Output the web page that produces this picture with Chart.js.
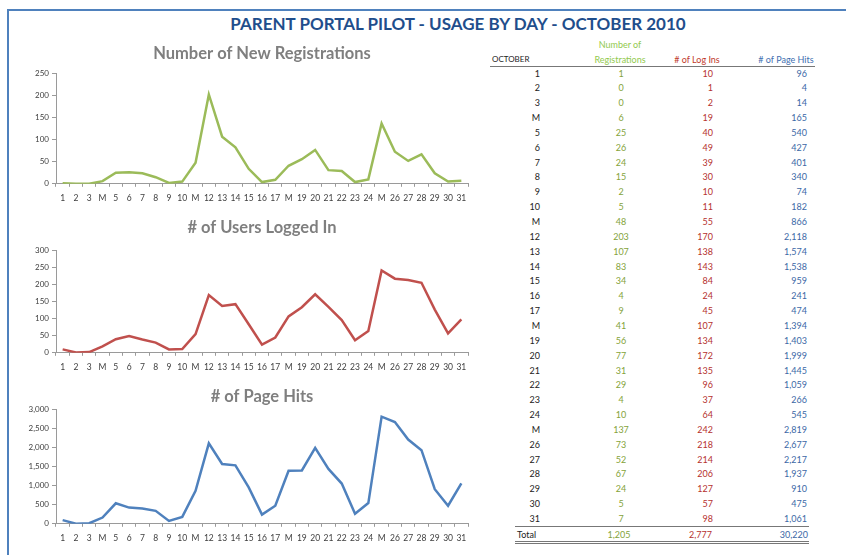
<!DOCTYPE html>
<html>
<head>
<meta charset="utf-8">
<script src="https://cdn.jsdelivr.net/npm/chart.js@4"></script>
<style>
  html, body { margin: 0; padding: 0; background: #fff; }
  body { width: 846px; height: 555px; position: relative; overflow: hidden; font-family: Lato, "Open Sans", sans-serif; }
  .frame { position: absolute; left: 7px; top: 9px; width: 850px; height: 560px; border-left: 2px solid #4f81bd; border-top: 2px solid #4f81bd; }
  .title { position: absolute; left: 0; width: 916px; top: 13px; text-align: center; font-weight: bold; font-size: 17px; color: #1f4e8c; }
  .box { position: absolute; left: 0; width: 480px; }
  #tbl { position: absolute; left: 480px; top: 0; width: 366px; height: 555px; font-size: 9px; }
  #tbl .cell { position: absolute; white-space: nowrap; }
  #tbl .hl { position: absolute; background: #777; }
</style>
</head>
<body>
<div class="frame"></div>
<div class="title">PARENT PORTAL PILOT - USAGE BY DAY - OCTOBER 2010</div>
<div class="box" style="top:40px;height:169px"><canvas id="regChart"></canvas></div>
<div class="box" style="top:214px;height:164px"><canvas id="loginChart"></canvas></div>
<div class="box" style="top:383px;height:166px"><canvas id="hitsChart"></canvas></div>
<div id="tbl"></div>
<script>
// ---- data (October 2010) ----
const days = ["1","2","3","M","5","6","7","8","9","10","M","12","13","14","15","16","17","M","19","20","21","22","23","24","M","26","27","28","29","30","31"];
const registrations = [1,0,0,6,25,26,24,15,2,5,48,203,107,83,34,4,9,41,56,77,31,29,4,10,137,73,52,67,24,5,7];
const logins = [10,1,2,19,40,49,39,30,10,11,55,170,138,143,84,24,45,107,134,172,135,96,37,64,242,218,214,206,127,57,98];
const pageHits = [96,4,14,165,540,427,401,340,74,182,866,2118,1574,1538,959,241,474,1394,1403,1999,1445,1059,266,545,2819,2677,2217,1937,910,475,1061];

const GREEN = "#9bbb59", RED = "#c0504d", BLUE = "#4f81bd";
const FONT = "Lato, 'Open Sans', sans-serif";
const fmt = n => n.toLocaleString("en-US");

/* ---------------------------------------------------
    LINE CHARTS
---------------------------------------------------- */
function lineChart(id, title, data, color, max, step, gap) {
  return new Chart(document.getElementById(id), {
    type: "line",
    data: {
      labels: days,
      datasets: [{ data, borderColor: color, borderWidth: 2.5, pointRadius: 0, tension: 0 }]
    },
    options: {
      responsive: true,
      maintainAspectRatio: false,
      animation: false,
      layout: { padding: { right: 12, bottom: 0 } },
      plugins: {
        legend: { display: false },
        tooltip: { enabled: false },
        title: {
          display: true,
          fullSize: false,
          text: title,
          color: "#7f7f7f",
          font: { family: FONT, size: 16.5, weight: "bold" },
          padding: { top: 4, bottom: gap }
        }
      },
      scales: {
        x: {
          offset: true,
          grid: { display: true, drawOnChartArea: false, offset: true, tickLength: 3, color: "#9a9a9a" },
          border: { color: "#9a9a9a" },
          ticks: { color: "#404040", font: { family: FONT, size: 8.5 }, maxRotation: 0, autoSkip: false, padding: 6 }
        },
        y: {
          min: 0,
          max,
          afterFit: s => { s.width = 56; },
          grid: { display: true, drawOnChartArea: false, tickLength: 4, color: "#9a9a9a" },
          border: { color: "#9a9a9a" },
          ticks: { stepSize: step, color: "#404040", font: { family: FONT, size: 8 }, padding: 3, callback: v => fmt(v) }
        }
      }
    }
  });
}

lineChart("regChart", "Number of New Registrations", registrations, GREEN, 250, 50, 10);
lineChart("loginChart", "# of Users Logged In", logins, RED, 300, 50, 13);
lineChart("hitsChart", "# of Page Hits", pageHits, BLUE, 3000, 500, 3);

/* ---------------------------------------------------
    TABLE
---------------------------------------------------- */
const tbl = document.getElementById("tbl");
const X0 = 480;
function cell(text, x, y, align, color, extra) {
  const d = document.createElement("div");
  d.className = "cell";
  d.textContent = text;
  d.style.top = (y - 6) + "px";
  d.style.color = color;
  if (align === "right") { d.style.right = (846 - x) + "px"; }
  else if (align === "center") { d.style.left = (x - X0 - 60) + "px"; d.style.width = "120px"; d.style.textAlign = "center"; }
  else { d.style.left = (x - X0) + "px"; }
  if (extra) Object.assign(d.style, extra);
  tbl.appendChild(d);
}
function hline(x1, x2, y, h) {
  const d = document.createElement("div");
  d.className = "hl";
  d.style.left = (x1 - X0) + "px";
  d.style.width = (x2 - x1) + "px";
  d.style.top = y + "px";
  d.style.height = h + "px";
  tbl.appendChild(d);
}

const REG_TXT = "#84a33a", LOG_TXT = "#b5312e", HIT_TXT = "#3b68a6";
cell("OCTOBER", 492, 60, "left", "#222", { fontSize: "8px" });
cell("Number of", 620, 45, "center", "#92c94e");
cell("Registrations", 620, 60, "center", "#92c94e");
cell("# of Log Ins", 697, 60, "center", "#c0392b");
cell("# of Page Hits", 786, 60, "center", "#3f6fb0");
hline(490, 815, 66, 1);

const ROW0 = 73.5, ROWH = 14.85;
days.forEach((d, i) => {
  const y = ROW0 + i * ROWH;
  cell(d, 540, y, "right", "#222");
  cell(fmt(registrations[i]), 621, y, "center", REG_TXT);
  cell(fmt(logins[i]), 713, y, "right", LOG_TXT);
  cell(fmt(pageHits[i]), 807, y, "right", HIT_TXT);
});

const sum = a => a.reduce((s, v) => s + v, 0);
hline(515, 809, 526, 1);
cell("Total", 517, 535, "left", "#222");
cell(fmt(sum(registrations)), 619, 535, "center", REG_TXT);
cell(fmt(sum(logins)), 712, 535, "right", LOG_TXT);
cell(fmt(sum(pageHits)), 808, 535, "right", HIT_TXT);
hline(515, 809, 541, 1);
hline(515, 809, 543, 1);
</script>
</body>
</html>
